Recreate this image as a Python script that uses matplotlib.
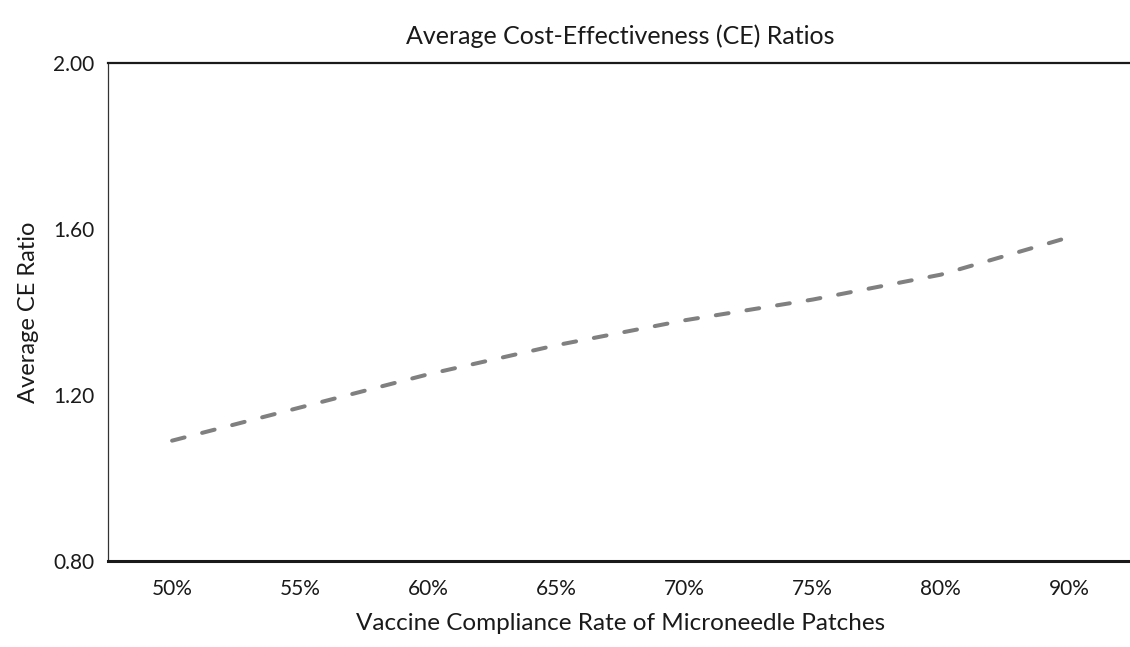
import matplotlib
matplotlib.use("Agg")
import matplotlib.pyplot as plt

# values
compliance_labels = ["50%", "55%", "60%", "65%", "70%", "75%", "80%", "90%"]
avg_ce_ratio = [1.09, 1.17, 1.25, 1.32, 1.38, 1.43, 1.49, 1.58]
y_ticks = [0.80, 1.20, 1.60, 2.00]

plt.rcParams["font.family"] = ["Lato", "DejaVu Sans"]

fig = plt.figure(figsize=(11.3, 6.47), dpi=100)
ax = fig.add_axes([0.0956, 0.1329, 0.907, 0.7697])

x = list(range(len(compliance_labels)))
line, = ax.plot(x, avg_ce_ratio, color="#808080", linewidth=2.9,
                dash_capstyle="round", solid_joinstyle="round")
line.set_dashes((3.2, 4.5))

ax.set_xlim(-0.5, len(compliance_labels) - 0.5)
ax.set_ylim(0.8, 2.0)
ax.set_xticks(x)
ax.set_xticklabels(compliance_labels)
ax.set_yticks(y_ticks)
ax.set_yticklabels([f"{v:.2f}" for v in y_ticks])
ax.tick_params(axis="both", length=0, labelsize=15, colors="#1a1a1a")
ax.tick_params(axis="x", pad=13)
ax.tick_params(axis="y", pad=10)

ax.spines["right"].set_visible(False)
ax.spines["left"].set_linewidth(0.9)
ax.spines["left"].set_color("#333333")
ax.spines["top"].set_linewidth(1.6)
ax.spines["top"].set_color("#1a1a1a")
ax.spines["bottom"].set_linewidth(2.2)
ax.spines["bottom"].set_color("#1a1a1a")

ax.set_title("Average Cost-Effectiveness (CE) Ratios", fontsize=18,
             color="#1a1a1a", pad=14)
ax.set_xlabel("Vaccine Compliance Rate of Microneedle Patches", fontsize=17.5,
              color="#1a1a1a", labelpad=10)
ax.set_ylabel("Average CE Ratio", fontsize=17, color="#1a1a1a", labelpad=10)

fig.savefig("out.png", dpi=100)
